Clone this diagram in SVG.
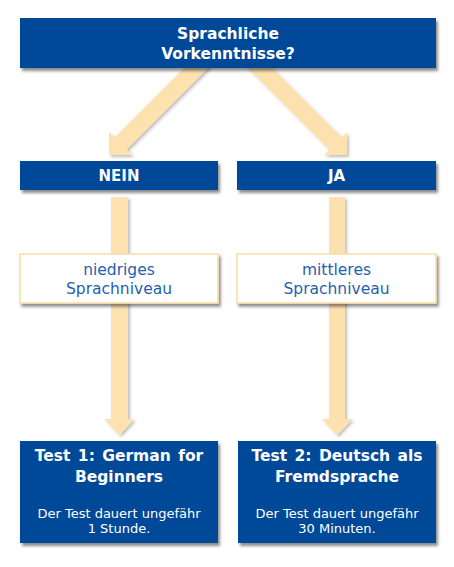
<svg xmlns="http://www.w3.org/2000/svg" width="454" height="567" viewBox="0 0 454 567">
<defs>
<filter id="sh" x="-10%" y="-20%" width="125%" height="150%">
<feDropShadow dx="2" dy="3" stdDeviation="1.8" flood-color="#000" flood-opacity="0.45"/>
</filter>
<filter id="ash" x="-20%" y="-20%" width="150%" height="150%">
<feDropShadow dx="2" dy="2" stdDeviation="1.5" flood-color="#000" flood-opacity="0.25"/>
</filter>
</defs>
<style>
.blue{fill:#004a99;}
.mid{fill:#ffffff;stroke:#fcdca6;stroke-width:1.5;}
.arrow{fill:#fde2b0;}
.h{font-family:"DejaVu Sans",Verdana,sans-serif;font-weight:bold;fill:#ffffff;text-anchor:middle;}
.m{font-family:"DejaVu Sans",Verdana,sans-serif;fill:#1f5fae;text-anchor:middle;font-size:15.5px;}
.s{font-family:"DejaVu Sans",Verdana,sans-serif;fill:#ffffff;text-anchor:middle;font-size:13px;}
</style>
<rect width="454" height="567" fill="#ffffff"/>
<g id="connectors" filter="url(#ash)">
<polygon class="arrow" points="198,54 114.5,137.5 109,132 109,155 132,155 126.5,149.5 210,66"/>
<polygon class="arrow" points="258,54 341.5,137.5 347,132 347,155 324,155 329.5,149.5 246,66"/>
<polygon class="arrow" points="111,197 128,197 128,419 134,419 119.5,435 104,419 111,419"/>
<polygon class="arrow" points="329,197 345,197 345,419 352,419 337,435 322,419 329,419"/>
</g>
<g id="top">
<rect class="blue" x="20" y="18" width="416" height="50" filter="url(#sh)"/>
<text class="h" x="228" y="39" font-size="15.5">Sprachliche</text>
<text class="h" x="228" y="59" font-size="15.5">Vorkenntnisse?</text>
</g>
<g id="nein">
<rect class="blue" x="20" y="161" width="198" height="29" filter="url(#sh)"/>
<text class="h" x="119" y="181" font-size="15">NEIN</text>
</g>
<g id="ja">
<rect class="blue" x="237" y="161" width="199" height="29" filter="url(#sh)"/>
<text class="h" x="336.5" y="181" font-size="15">JA</text>
</g>
<g id="niedrig">
<rect class="mid" x="20" y="254" width="198" height="49" filter="url(#sh)"/>
<text class="m" x="119" y="275">niedriges</text>
<text class="m" x="119" y="294">Sprachniveau</text>
</g>
<g id="mittel">
<rect class="mid" x="237" y="254" width="199" height="49" filter="url(#sh)"/>
<text class="m" x="336.5" y="275">mittleres</text>
<text class="m" x="336.5" y="294">Sprachniveau</text>
</g>
<g id="test1">
<rect class="blue" x="20" y="441" width="198" height="102" filter="url(#sh)"/>
<text class="h" x="119" y="461" font-size="15.5" word-spacing="2">Test 1: German for</text>
<text class="h" x="119" y="482" font-size="15.5">Beginners</text>
<text class="s" x="119" y="518">Der Test dauert ungefähr</text>
<text class="s" x="119" y="533">1 Stunde.</text>
</g>
<g id="test2">
<rect class="blue" x="238" y="441" width="198" height="102" filter="url(#sh)"/>
<text class="h" x="337" y="461" font-size="15.5" word-spacing="2">Test 2: Deutsch als</text>
<text class="h" x="337" y="482" font-size="15.5">Fremdsprache</text>
<text class="s" x="337" y="518">Der Test dauert ungefähr</text>
<text class="s" x="337" y="533">30 Minuten.</text>
</g>
</svg>
